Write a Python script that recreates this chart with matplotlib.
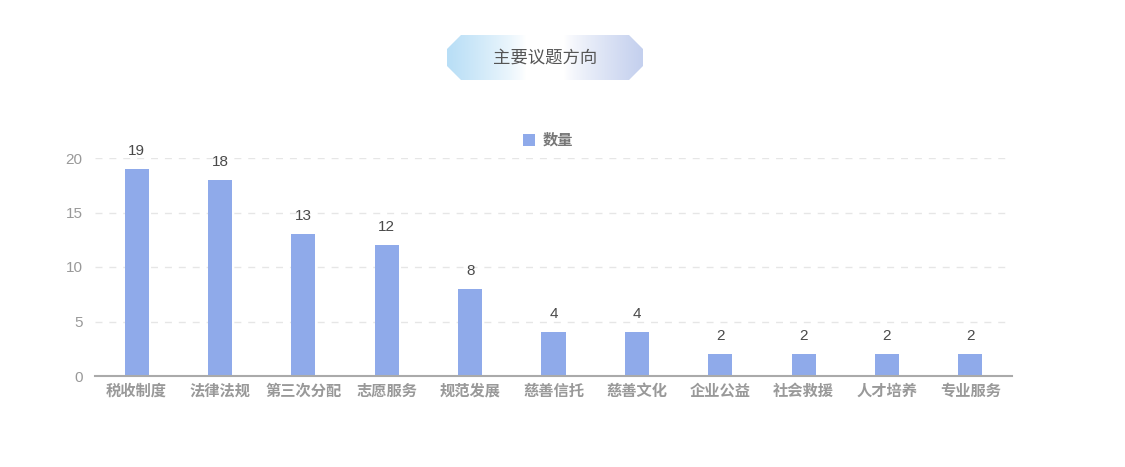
import numpy as np
import matplotlib
matplotlib.use("Agg")
import matplotlib.pyplot as plt
from matplotlib.patches import Polygon

plt.rcParams['font.family'] = ['Noto Sans CJK SC', 'DejaVu Sans']
num_font = ['Liberation Sans', 'Noto Sans CJK SC']

categories = ['税收制度', '法律法规', '第三次分配', '志愿服务', '规范发展',
              '慈善信托', '慈善文化', '企业公益', '社会救援', '人才培养', '专业服务']
counts = [19, 18, 13, 12, 8, 4, 4, 2, 2, 2, 2]
yticks = [0, 5, 10, 15, 20]
title = '主要议题方向'
series_name = '数量'

W, H = 1125, 467
fig = plt.figure(figsize=(W / 100, H / 100), dpi=100)
fig.patch.set_facecolor('white')

# main plot area
ax = fig.add_axes([95 / W, (H - 376) / H, (1012 - 95) / W, (376 - 158) / H])
x = np.arange(len(categories))
ax.bar(x, counts, width=0.29, color='#8faaea', label=series_name, zorder=3)
for xi, v in zip(x, counts):
    ax.annotate(str(v), (xi, v), xytext=(0, 8), textcoords='offset points',
                ha='center', va='bottom', fontsize=11, family=num_font,
                color='#4a4a4a', annotation_clip=False)

ax.set_xlim(-0.5, len(categories) - 0.5)
ax.set_ylim(0, 20)
ax.set_yticks(yticks)
ax.set_yticklabels([str(v) for v in yticks], family=num_font)
ax.set_xticks(x)
ax.set_xticklabels(categories, fontsize=11, color='#999999', fontweight='bold')
ax.tick_params(axis='y', labelsize=11, labelcolor='#999999', length=0, pad=9)
ax.tick_params(axis='x', length=0, pad=5)
ax.yaxis.grid(True, linestyle=(0, (5, 5)), color='#e6e6e6', linewidth=1, zorder=0)
for s in ['top', 'right', 'left']:
    ax.spines[s].set_visible(False)
ax.spines['bottom'].set_color('#aaaaaa')
ax.spines['bottom'].set_linewidth(1.5)
ax.spines['bottom'].set_zorder(4)

leg = ax.legend(loc='center', bbox_to_anchor=((548 - 95) / 917, (376 - 140) / 218),
                frameon=False, handlelength=0.8, handleheight=0.8,
                handletextpad=0.5, prop={'size': 11, 'weight': 'bold'})
for t in leg.get_texts():
    t.set_color('#777777')

# title badge with gradient
bx0, bx1, by0, by1 = 447, 643, 35, 80
bw, bh = bx1 - bx0, by1 - by0
bax = fig.add_axes([bx0 / W, (H - by1) / H, bw / W, bh / H])
bax.set_xlim(0, bw)
bax.set_ylim(0, bh)
bax.axis('off')
t = np.linspace(0, 1, 200)
left_c = np.array([184, 222, 246]) / 255
right_c = np.array([196, 208, 238]) / 255
white = np.ones(3)
wl = np.clip(1 - t / 0.4, 0, 1) ** 0.8
wr = np.clip((t - 0.6) / 0.4, 0, 1) ** 0.8
row = white[None, :] * (1 - wl - wr)[:, None] + left_c[None, :] * wl[:, None] + right_c[None, :] * wr[:, None]
img = np.repeat(row[None, :, :], 10, axis=0)
im = bax.imshow(img, extent=(0, bw, 0, bh), aspect='auto')
c = 14
poly = Polygon([(c, 0), (bw - c, 0), (bw, c), (bw, bh - c), (bw - c, bh),
                (c, bh), (0, bh - c), (0, c)], closed=True,
               facecolor='none', edgecolor='none', transform=bax.transData)
bax.add_patch(poly)
im.set_clip_path(poly)
bax.text(bw / 2, bh / 2, title, ha='center', va='center', fontsize=12.5, color='#555555')

fig.savefig('out.png', dpi=100)
